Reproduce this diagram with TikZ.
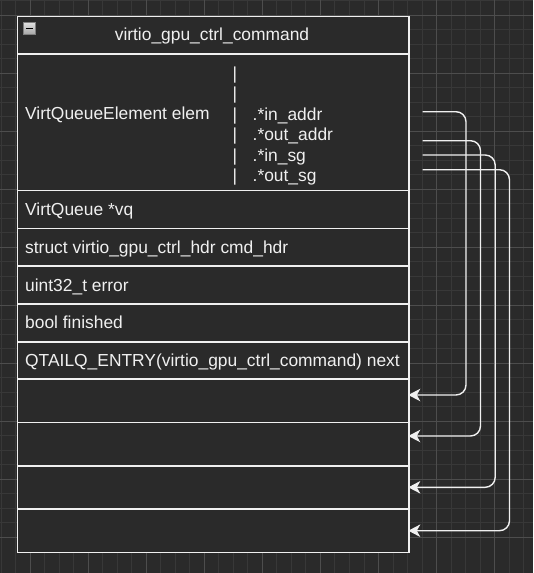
\documentclass[tikz,border=0pt]{standalone}
\usepackage{fontspec}
\setmainfont{Liberation Sans}
\usetikzlibrary{arrows.meta}
\definecolor{bg}{HTML}{2A2A2A}
\definecolor{gminor}{HTML}{383838}
\definecolor{gmajor}{HTML}{4D4D4D}
\definecolor{fg}{HTML}{F0F0F0}
\definecolor{icotop}{HTML}{E0E0E0}
\definecolor{icobot}{HTML}{A8A8A8}
\begin{document}
\begin{tikzpicture}[x=1pt,y=-1pt,
  txt/.style={anchor=base west, inner sep=0pt, text=fg, font=\fontsize{17.4}{20}\selectfont},
  bar/.style={anchor=base, inner sep=0pt, text=fg, font=\fontsize{17.4}{20}\selectfont},
  cell/.style={draw=fg, fill=bg, line width=1.5pt, rectangle, inner sep=0pt, minimum width=391.6pt, anchor=north west},
  conn/.style={draw=fg, line width=1.4pt, rounded corners=10pt, -{Stealth[length=12pt,width=12.5pt,inset=3.5pt]}}]
\fill[bg] (0,0) rectangle (533,573);
\useasboundingbox (0,0) rectangle (533,573);
% grid
\foreach \i in {0,...,36} {
  \draw[gminor, line width=0.9pt] (0.96+14.52*\i,0) -- (0.96+14.52*\i,573);
  \draw[gminor, line width=0.9pt] (0,0.5+14.51*\i) -- (533,0.5+14.51*\i);
}
\foreach \i in {0,...,9} {
  \draw[gmajor, line width=0.9pt] (30+58.08*\i,0) -- (30+58.08*\i,573);
  \draw[gmajor, line width=0.9pt] (0,15+58.03*\i) -- (533,15+58.03*\i);
}
% rows
\node[cell, minimum height=37.6pt] (head) at (16.7,15.7) {};
\node[cell, minimum height=136.5pt] (elem) at (16.7,53.3) {};
\node[cell, minimum height=37.9pt] (vq) at (16.7,189.8) {};
\node[cell, minimum height=37.6pt] (hdr) at (16.7,227.7) {};
\node[cell, minimum height=38pt] (err) at (16.7,265.3) {};
\node[cell, minimum height=37.7pt] (fin) at (16.7,303.3) {};
\node[cell, minimum height=37.3pt] (nxt) at (16.7,341) {};
\node[cell, minimum height=43.4pt] (r1) at (16.7,378.3) {};
\node[cell, minimum height=43.3pt] (r2) at (16.7,421.7) {};
\node[cell, minimum height=43.3pt] (r3) at (16.7,465) {};
\node[cell, minimum height=43.4pt] (r4) at (16.7,508.3) {};
% collapse icon
\shade[top color=icotop, bottom color=icobot, draw=gray, line width=0.6pt] (23.5,22.5) rectangle (35.5,34) ;
\draw[black, line width=1.6pt] (26.2,28.4) -- (32.8,28.4);
\node[draw=none, inner sep=0pt] (icon) at (29.5,28.2) {};
% texts
\node[txt, anchor=base] (title) at (212,40.8) {virtio\_gpu\_ctrl\_command};
\node[txt] (telem) at (25,119.8) {VirtQueueElement elem};
\node[bar] (b1) at (235,79) {|};
\node[bar] (b2) at (235,99.5) {|};
\node[bar] (b3) at (235,120) {|};
\node[bar] (b4) at (235,140.5) {|};
\node[bar] (b5) at (235,161) {|};
\node[bar] (b6) at (235,181.5) {|};
\node[txt] (inaddr) at (252.5,120) {.*in\_addr};
\node[txt] (outaddr) at (252.5,140.5) {.*out\_addr};
\node[txt] (insg) at (252.5,161) {.*in\_sg};
\node[txt] (outsg) at (252.5,181.5) {.*out\_sg};
\node[txt] (tvq) at (25,215.3) {VirtQueue *vq};
\node[txt] (thdr) at (25,253) {struct virtio\_gpu\_ctrl\_hdr cmd\_hdr};
\node[txt] (terr) at (25,291) {uint32\_t error};
\node[txt] (tfin) at (25,328.7) {bool finished};
\node[txt] (tnxt) at (25,366.2) {QTAILQ\_ENTRY(virtio\_gpu\_ctrl\_command) next};
% connectors
\coordinate (s1) at (422.7,111.7);
\coordinate (s2) at (422.7,140.7);
\coordinate (s3) at (422.7,155);
\coordinate (s4) at (422.7,169.7);
\coordinate (e1) at (408.3,395);
\coordinate (e2) at (408.3,436);
\coordinate (e3) at (408.3,487.3);
\coordinate (e4) at (408.3,530.7);
\draw[conn] (s1) -- (466,111.7) -- (466,395) -- (e1);
\draw[conn] (s2) -- (480.5,140.7) -- (480.5,436) -- (e2);
\draw[conn] (s3) -- (495.2,155) -- (495.2,487.3) -- (e3);
\draw[conn] (s4) -- (509.5,169.7) -- (509.5,530.7) -- (e4);
\end{tikzpicture}
\end{document}
